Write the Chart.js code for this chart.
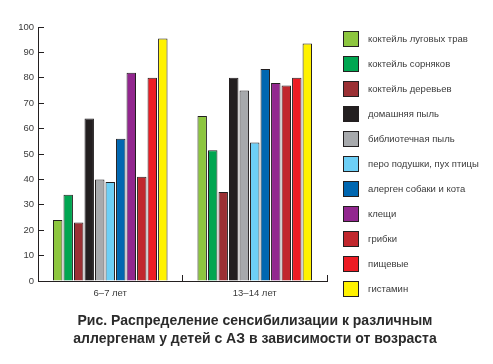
<!DOCTYPE html>
<html>
<head>
<meta charset="utf-8">
<script src="https://cdn.jsdelivr.net/npm/chart.js@4"></script>
<style>
  body { margin: 0; background: #fff; }
</style>
</head>
<body>
<canvas id="chart-01" width="493" height="364"></canvas>
<script>
// ==================data=================

const ageGroups = ["6–7 лет", "13–14 лет"];

const allergens = [
  "коктейль луговых трав",
  "коктейль сорняков",
  "коктейль деревьев",
  "домашняя пыль",
  "библиотечная пыль",
  "перо подушки, пух птицы",
  "алерген собаки и кота",
  "клещи",
  "грибки",
  "пищевые",
  "гистамин",
];

const group67 = [24, 34, 23, 64, 40, 39, 56, 82, 41, 80, 95.5];
const group1314 = [65, 51.5, 35, 80, 75, 54.5, 83.5, 78, 77, 80, 93.5];

const colors = [
  "#8dc63f",
  "#00a651",
  "#9b3034",
  "#231f20",
  "#a7a9ac",
  "#6dcff6",
  "#0067b1",
  "#92278f",
  "#c1272d",
  "#ed1c24",
  "#fff200",
];

const caption = [
  "Рис. Распределение сенсибилизации к различным",
  "аллергенам у детей с АЗ в зависимости от возраста",
];

const yMax = 100;
const yStep = 10;

// ==================chart=================

const fontFamily = "'Liberation Sans', Arial, Helvetica, sans-serif";
const ink = "#231f20";

// legend on the right + caption below, drawn on the same canvas
const sideLegend = {
  id: "sideLegend",
  afterDraw(chart) {
    const ctx = chart.ctx;
    ctx.save();
    ctx.font = "9.5px " + fontFamily;
    ctx.textBaseline = "middle";
    ctx.textAlign = "left";
    chart.data.datasets.forEach(function (ds, i) {
      const y = 31 + i * 25;
      ctx.fillStyle = ds.backgroundColor;
      ctx.fillRect(343.5, y + 0.5, 15, 15);
      ctx.strokeStyle = ink;
      ctx.lineWidth = 1;
      ctx.strokeRect(343.5, y + 0.5, 15, 15);
      ctx.fillStyle = "#3a3a3a";
      ctx.fillText(ds.label, 368, y + 8);
    });

    ctx.font = "bold 14px " + fontFamily;
    ctx.textAlign = "center";
    ctx.textBaseline = "alphabetic";
    ctx.fillStyle = "#2b2b2b";
    caption.forEach(function (line, i) {
      ctx.fillText(line, 255, 325 + i * 18);
    });
    ctx.restore();
  },
};

const ctx01 = document.getElementById("chart-01").getContext("2d");

new Chart(ctx01, {
  type: "bar",
  data: {
    labels: ageGroups,
    datasets: allergens.map(function (name, i) {
      return {
        label: name,
        data: [group67[i], group1314[i]],
        backgroundColor: colors[i],
        borderColor: ink,
        borderWidth: 1,
        categoryPercentage: 0.8,
        barPercentage: 0.9,
      };
    }),
  },
  options: {
    responsive: false,
    animation: false,
    layout: {
      padding: { left: 0, right: 166, top: 27, bottom: 63 },
    },
    plugins: {
      legend: { display: false },
      tooltip: { enabled: false },
    },
    scales: {
      x: {
        grid: {
          drawOnChartArea: false,
          offset: true,
          tickLength: -6,
          color: ink,
        },
        border: { color: ink, width: 1 },
        ticks: {
          color: "#3a3a3a",
          padding: 13,
          font: { size: 9.5, family: fontFamily },
        },
        afterFit: function (scale) {
          scale.height = 20;
        },
      },
      y: {
        min: 0,
        max: yMax,
        grid: {
          drawOnChartArea: false,
          tickLength: -6,
          color: ink,
        },
        border: { color: ink, width: 1 },
        ticks: {
          stepSize: yStep,
          color: "#3a3a3a",
          padding: 10,
          font: { size: 9.5, family: fontFamily },
        },
        afterFit: function (scale) {
          scale.width = 38;
        },
      },
    },
  },
  plugins: [sideLegend],
});
</script>
</body>
</html>
